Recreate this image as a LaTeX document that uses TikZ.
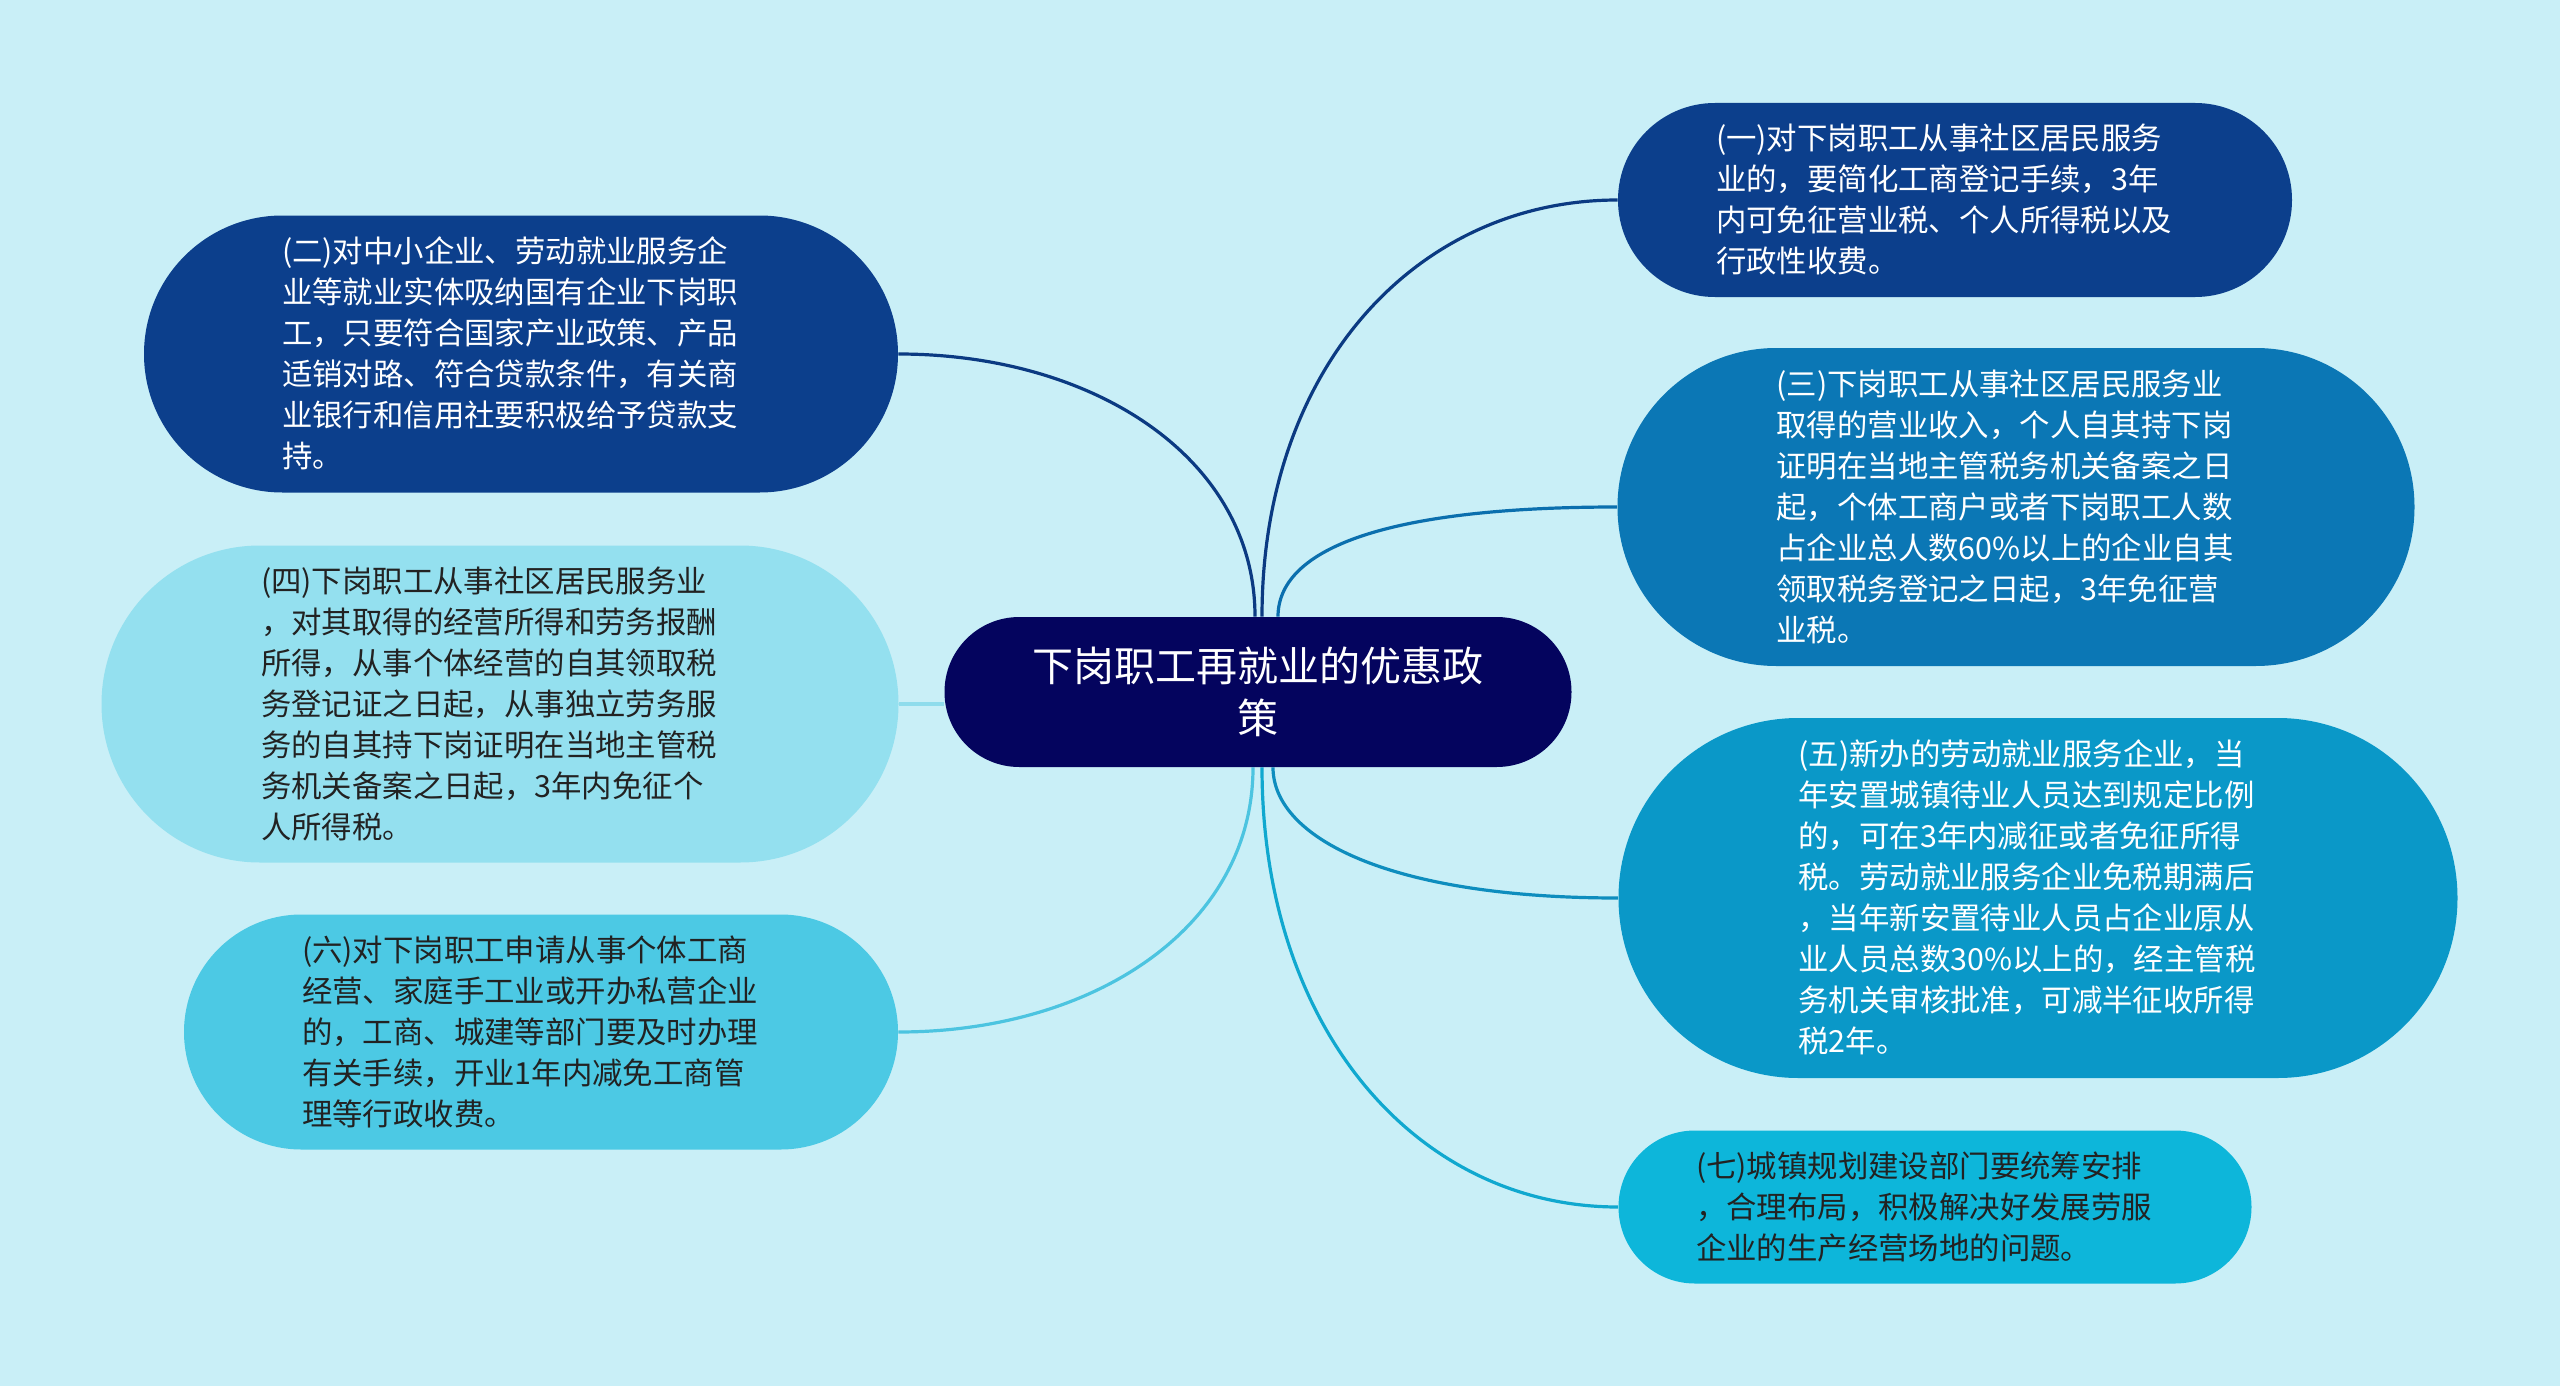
\documentclass[tikz,border=0pt]{standalone}
\usepackage{fontspec}
\newfontfamily\cjk{Noto Sans CJK SC}
\usetikzlibrary{backgrounds}
\definecolor{bgc}{HTML}{C9EFF7}
\definecolor{rootc}{HTML}{04045E}
\definecolor{ca}{HTML}{0C3F8C}
\definecolor{cb}{HTML}{0B77B5}
\definecolor{cc}{HTML}{0A98C8}
\definecolor{cd}{HTML}{0DB6DA}
\definecolor{ce}{HTML}{4CC9E4}
\definecolor{cf}{HTML}{94E0EF}
\definecolor{la}{HTML}{0B3A82}
\definecolor{lb}{HTML}{0B6FAE}
\definecolor{lc}{HTML}{0E8DBE}
\definecolor{ld}{HTML}{10A8CF}
\definecolor{le}{HTML}{4CC4E0}
\definecolor{lf}{HTML}{8FDCEC}
\definecolor{darktext}{HTML}{222222}
\newcommand{\tb}[1]{\raisebox{-1.6pt}[\height][\depth]{\begin{tabular}{@{}l@{\hspace{11pt}}}#1\end{tabular}}}
\tikzset{
  leaf/.style={rectangle, inner sep=0pt,
    font=\cjk\fontsize{15.2pt}{20.5pt}\selectfont},
  rootbox/.style={rectangle, inner sep=0pt, align=center, fill=rootc, text=white,
    font=\cjk\fontsize{20.5pt}{26pt}\selectfont},
  link/.style={line width=1.6pt}
}
\begin{document}
\begin{tikzpicture}[x=0.5pt,y=-0.5pt]
\useasboundingbox (0,0) rectangle (2560,1386);
\node[rootbox, minimum width=313.5pt, minimum height=75pt, rounded corners=37.4pt] (root) at (1258,692) {下岗职工再就业的优惠政\\策};

\node[leaf, fill=ca, text=white, minimum width=337pt, minimum height=97pt, rounded corners=48.4pt] (n1) at (1955,200)
{\tb{(一)对下岗职工从事社区居民服务\\业的，要简化工商登记手续，3年\\内可免征营业税、个人所得税以及\\行政性收费。}};

\node[leaf, fill=ca, text=white, minimum width=377pt, minimum height=138.5pt, rounded corners=69.2pt] (n2) at (521,354)
{\tb{(二)对中小企业、劳动就业服务企\\业等就业实体吸纳国有企业下岗职\\工，只要符合国家产业政策、产品\\适销对路、符合贷款条件，有关商\\业银行和信用社要积极给予贷款支\\持。}};

\node[leaf, fill=cb, text=white, minimum width=398.5pt, minimum height=159pt, rounded corners=79.4pt] (n3) at (2016,507)
{\tb{(三)下岗职工从事社区居民服务业\\取得的营业收入，个人自其持下岗\\证明在当地主管税务机关备案之日\\起，个体工商户或者下岗职工人数\\占企业总人数60\%以上的企业自其\\领取税务登记之日起，3年免征营\\业税。}};

\node[leaf, fill=cf, text=darktext, minimum width=398.5pt, minimum height=158.5pt, rounded corners=79.2pt] (n4) at (500,704)
{\tb{(四)下岗职工从事社区居民服务业\\，对其取得的经营所得和劳务报酬\\所得，从事个体经营的自其领取税\\务登记证之日起，从事独立劳务服\\务的自其持下岗证明在当地主管税\\务机关备案之日起，3年内免征个\\人所得税。}};

\node[leaf, fill=cc, text=white, minimum width=419.5pt, minimum height=180pt, rounded corners=89.9pt] (n5) at (2038,898)
{\tb{(五)新办的劳动就业服务企业，当\\年安置城镇待业人员达到规定比例\\的，可在3年内减征或者免征所得\\税。劳动就业服务企业免税期满后\\，当年新安置待业人员占企业原从\\业人员总数30\%以上的，经主管税\\务机关审核批准，可减半征收所得\\税2年。}};

\node[leaf, fill=ce, text=darktext, minimum width=357pt, minimum height=117.5pt, rounded corners=58.7pt] (n6) at (541,1032)
{\tb{(六)对下岗职工申请从事个体工商\\经营、家庭手工业或开办私营企业\\的，工商、城建等部门要及时办理\\有关手续，开业1年内减免工商管\\理等行政收费。}};

\node[leaf, fill=cd, text=darktext, minimum width=316.5pt, minimum height=76.5pt, rounded corners=38.2pt] (n7) at (1935,1207)
{\tb{(七)城镇规划建设部门要统筹安排\\，合理布局，积极解决好发展劳服\\企业的生产经营场地的问题。}};

\begin{scope}[on background layer]
\fill[bgc] (0,0) rectangle (2560,1386);
\draw[link, la] ([xshift=2pt]root.north) .. controls +(0,-250) and +(-200,0) .. (n1.west);
\draw[link, la] ([xshift=-1.5pt]root.north) .. controls +(0,-158) and +(196,0) .. (n2.east);
\draw[link, lb] ([xshift=10pt]root.north) .. controls +(0,-65) and +(-240,0) .. (n3.west);
\draw[link, lf] (n4.east) -- (n4.east -| root.west);
\draw[link, lc] ([xshift=7.5pt]root.south) .. controls +(0,70) and +(-230,0) .. (n5.west);
\draw[link, le] ([xshift=-2.5pt]root.south) .. controls +(0,160) and +(195,0) .. (n6.east);
\draw[link, ld] ([xshift=2pt]root.south) .. controls +(0,263) and +(-200,0) .. (n7.west);
\end{scope}
\end{tikzpicture}
\end{document}
